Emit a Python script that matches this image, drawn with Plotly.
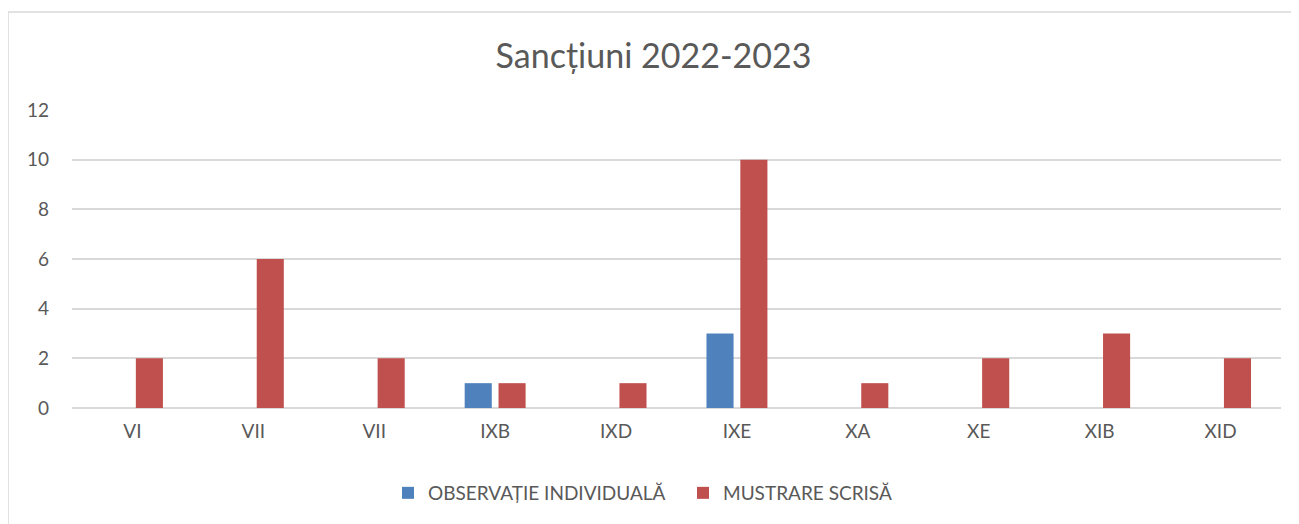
import plotly.graph_objects as go

categories = ["VI", "VII", "VII", "IXB", "IXD", "IXE", "XA", "XE", "XIB", "XID"]
observatie = [0, 0, 0, 1, 0, 3, 0, 0, 0, 0]
mustrare = [2, 6, 2, 1, 1, 10, 1, 2, 3, 2]
series_names = ["OBSERVAȚIE INDIVIDUALĂ", "MUSTRARE SCRISĂ"]
y_ticks = [0, 2, 4, 6, 8, 10, 12]

positions = list(range(len(categories)))
FONT = "Lato"
TXT = "#595959"
GRID = "#d9d9d9"

fig = go.Figure()
fig.add_trace(go.Bar(x=positions, y=observatie, name=series_names[0],
                     marker=dict(color="#4F81BD", line=dict(width=0))))
fig.add_trace(go.Bar(x=positions, y=mustrare, name=series_names[1],
                     marker=dict(color="#C0504D", line=dict(width=0))))

# page body has an 8px margin
OFF = 8
W, H = 1299 - OFF, 524 - OFF
ml, mt = 72 - OFF, 110 - OFF
mr = W - (1281 - OFF)
mb = H - (408 - OFF)
pw, ph = W - ml - mr, H - mt - mb

fig.update_layout(
    width=W, height=H,
    margin=dict(l=ml, r=mr, t=mt, b=mb),
    paper_bgcolor="white", plot_bgcolor="white",
    barmode="group", bargap=0.44, bargroupgap=0.2,
    font=dict(family=FONT, color=TXT, size=19),
    title=dict(text="Sancțiuni 2022-2023", x=0.5, xanchor="center",
               y=1 - (56 - OFF) / H, yanchor="middle",
               font=dict(family=FONT, size=34, color=TXT)),
    xaxis=dict(tickmode="array", tickvals=positions, ticktext=categories,
               range=[-0.5, len(categories) - 0.5], showgrid=False,
               zeroline=False, showline=False, ticks="", ticklabelstandoff=10,
               tickfont=dict(size=19, color=TXT)),
    yaxis=dict(range=[0, 12], tickvals=y_ticks, showgrid=True, gridcolor=GRID,
               gridwidth=1.5, zeroline=True, zerolinecolor=GRID, zerolinewidth=1.5,
               showline=False, ticks="", ticklabelstandoff=22,
               tickfont=dict(size=19, color=TXT)),
    legend=dict(orientation="h", x=(683 - 72) / pw, xanchor="center",
                y=-(493 - 408) / ph, yanchor="middle",
                font=dict(size=19, color=TXT), traceorder="normal",
                itemsizing="constant", entrywidth=250),
    shapes=[dict(type="rect", xref="paper", yref="paper",
                 x0=(8 - 72) / pw, x1=1.2, y0=-1, y1=(408 - 12) / ph,
                 line=dict(color=GRID, width=1.5), fillcolor="rgba(0,0,0,0)",
                 layer="below")],
)

fig.write_html("out.html")
